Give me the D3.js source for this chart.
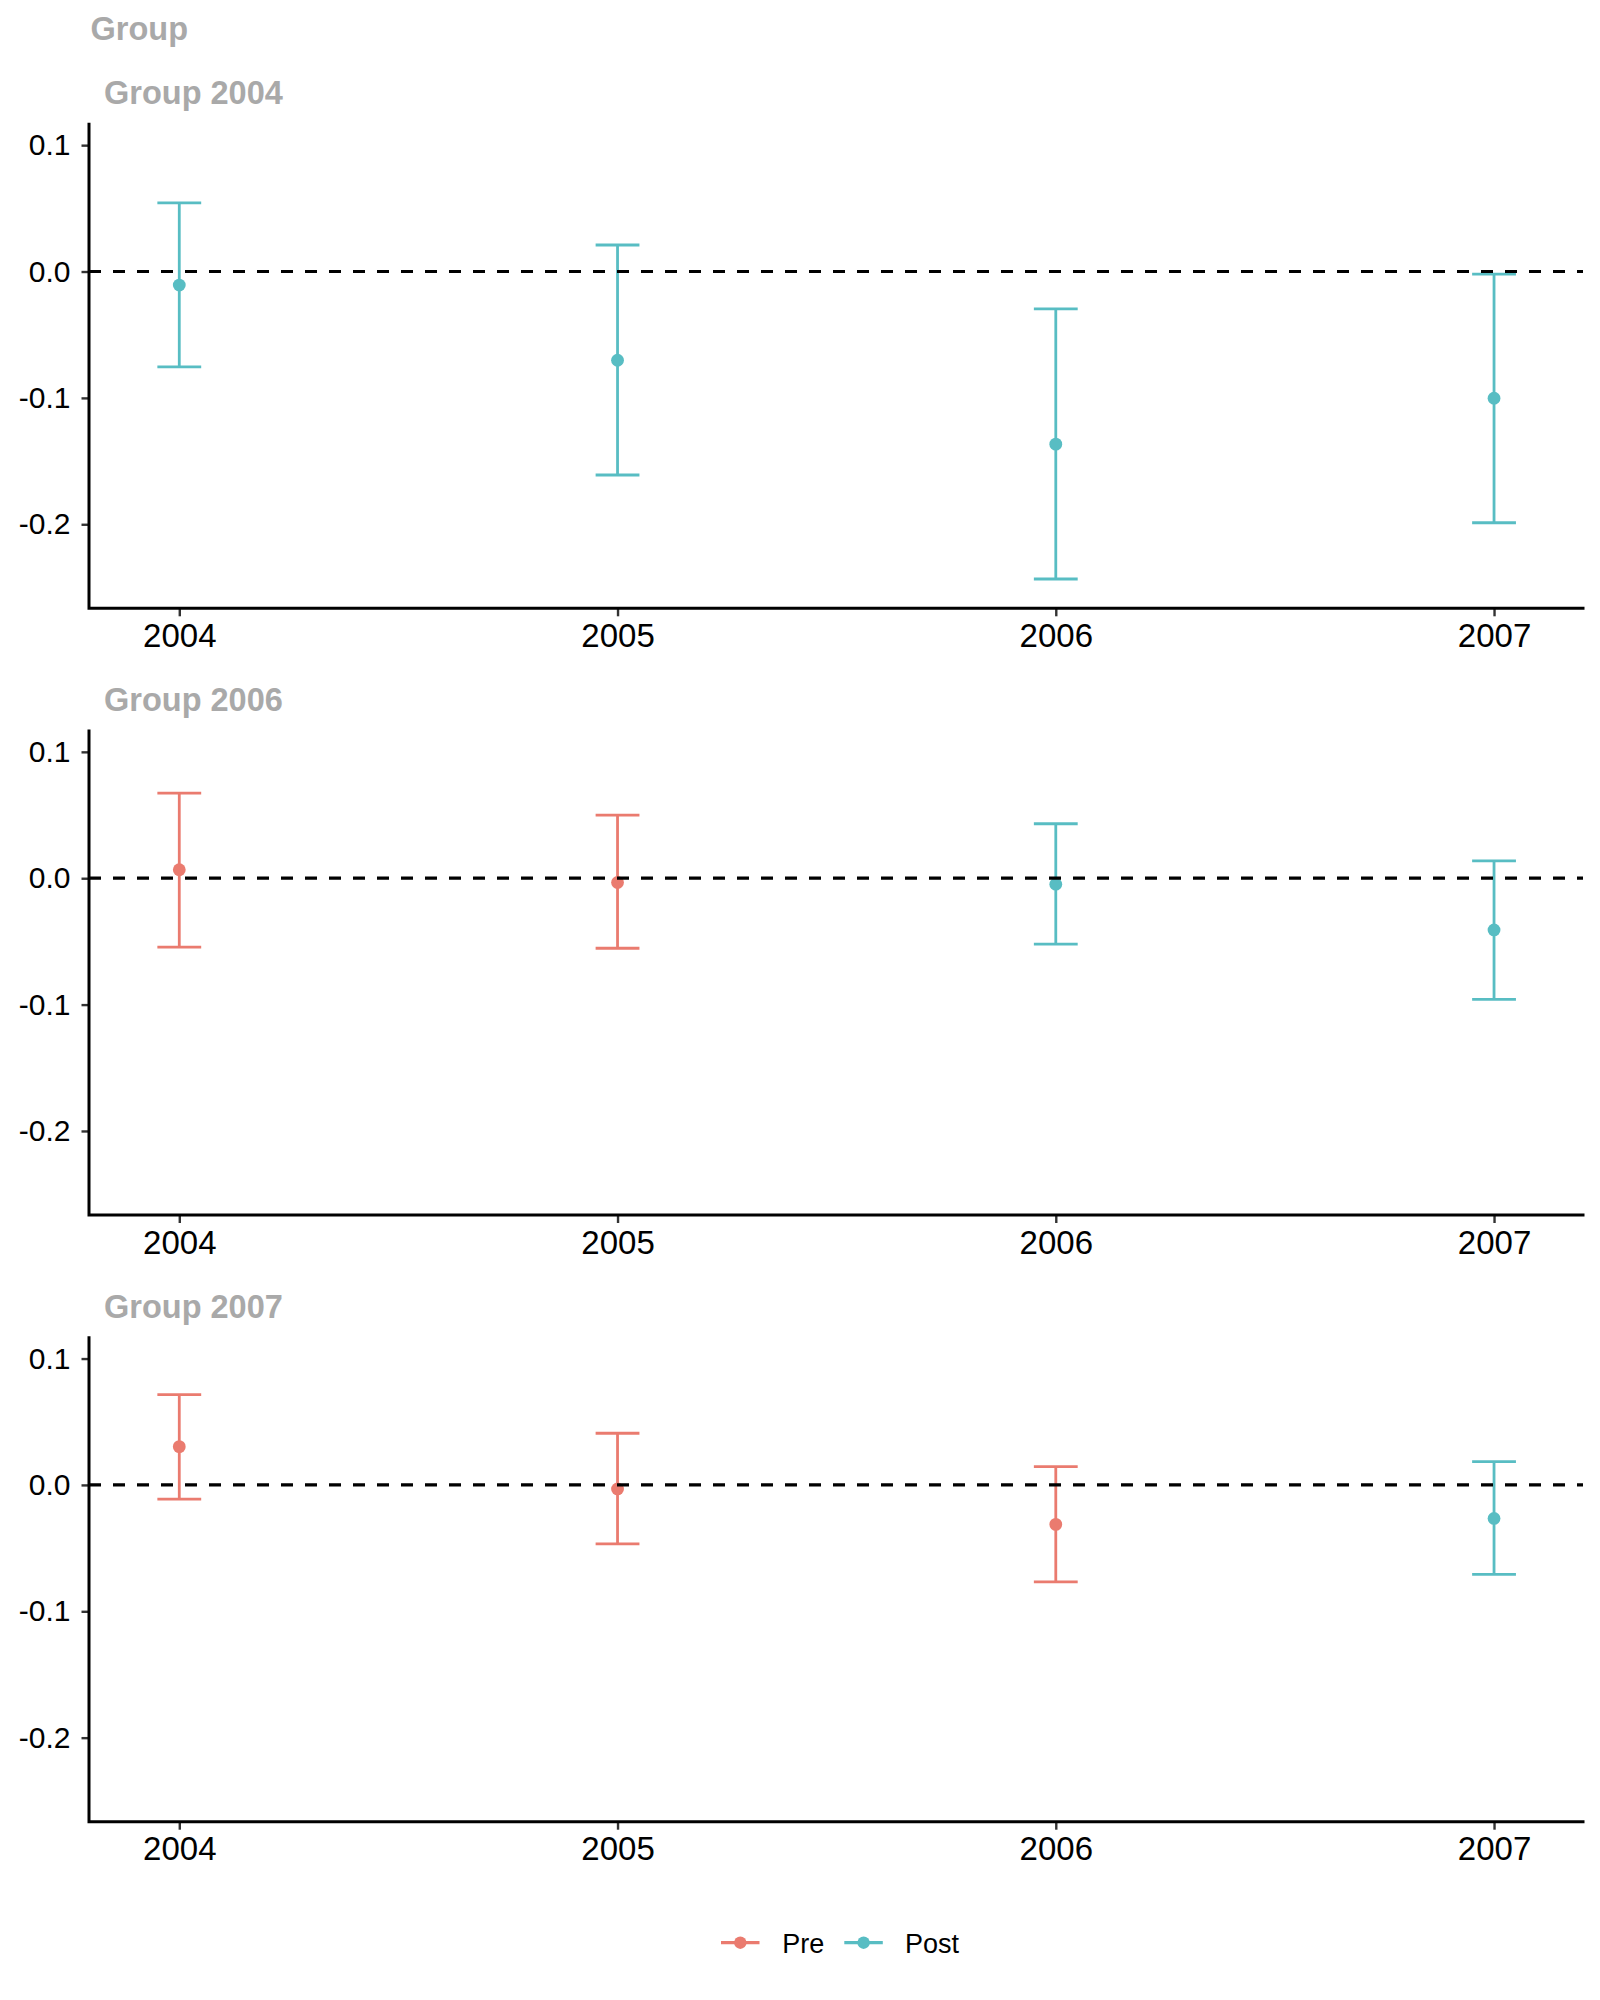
<!DOCTYPE html>
<html>
<head>
<meta charset="utf-8">
<script src="https://cdn.jsdelivr.net/npm/d3@7/dist/d3.min.js"></script>
<style>
  html, body { margin: 0; padding: 0; background: #fff; }
  svg { display: block; font-family: "Liberation Sans", Arial, Helvetica, sans-serif; }
</style>
</head>
<body>
<svg id="chart" width="1600" height="2000"></svg>
<script>
// ---- data ----
const years = [2004, 2005, 2006, 2007];
const groupNames = ["Group 2004", "Group 2006", "Group 2007"];
const periodLabels = ["Pre", "Post"];
const yTicks = [0.1, 0.0, -0.1, -0.2];

const periods2004 = ["Post", "Post", "Post", "Post"];
const est2004 = [-0.0107, -0.0702, -0.1366, -0.1003];
const lo2004  = [-0.0755, -0.1610, -0.2433, -0.1988];
const hi2004  = [ 0.0544,  0.0210, -0.0296, -0.0020];

const periods2006 = ["Pre", "Pre", "Post", "Post"];
const est2006 = [ 0.0067, -0.0034, -0.0047, -0.0409];
const lo2006  = [-0.0546, -0.0554, -0.0522, -0.0958];
const hi2006  = [ 0.0674,  0.0500,  0.0431,  0.0138];

const periods2007 = ["Pre", "Pre", "Pre", "Post"];
const est2007 = [ 0.0303, -0.0032, -0.0312, -0.0265];
const lo2007  = [-0.0112, -0.0466, -0.0767, -0.0708];
const hi2007  = [ 0.0715,  0.0409,  0.0144,  0.0184];

const panelData = [
  { name: groupNames[0], periods: periods2004, est: est2004, lo: lo2004, hi: hi2004 },
  { name: groupNames[1], periods: periods2006, est: est2006, lo: lo2006, hi: hi2006 },
  { name: groupNames[2], periods: periods2007, est: est2007, lo: lo2007, hi: hi2007 }
];

// ---- layout ----
const colors = { Pre: "#EA7B6F", Post: "#58BDC3" };
const left = 89, right = 1583;
const panelTops = [124.3, 731, 1337.7];
const panelH = 484;

const svg = d3.select("#chart");

const x = d3.scaleLinear().domain([2003.794, 2007.203]).range([left, right]);
const capW = 0.1; // in data units

// overall legend title
svg.append("text")
  .attr("x", 90.5).attr("y", 40)
  .attr("font-size", 32.5).attr("font-weight", "bold")
  .attr("fill", "#A9A9A9")
  .text("Group");

panelData.forEach((p, i) => {
  const top = panelTops[i];
  const bottom = top + panelH;
  const y = d3.scaleLinear().domain([-0.2665, 0.1165]).range([bottom, top]);
  const g = svg.append("g");

  // panel title
  g.append("text")
    .attr("x", 104).attr("y", top - 20)
    .attr("font-size", 32.5).attr("font-weight", "bold")
    .attr("fill", "#A9A9A9")
    .text(p.name);

  // y axis
  const yAxis = d3.axisLeft(y).tickValues(yTicks).tickSize(7.5).tickPadding(11)
    .tickFormat(d3.format(".1f"));
  const ya = g.append("g").attr("transform", `translate(${left},0)`).call(yAxis);
  ya.select(".domain").remove();
  ya.selectAll(".tick line").attr("stroke", "#333").attr("stroke-width", 2.4);
  ya.selectAll(".tick text").attr("font-size", 30).attr("fill", "#000")
    .attr("font-family", "'Liberation Sans', Arial, sans-serif")
    .text(d => d3.format(".1f")(d).replace("−", "-"));

  // x axis
  const xAxis = d3.axisBottom(x).tickValues(years).tickSize(8).tickPadding(8)
    .tickFormat(d3.format("d"));
  const xa = g.append("g").attr("transform", `translate(0,${bottom})`).call(xAxis);
  xa.select(".domain").remove();
  xa.selectAll(".tick line").attr("stroke", "#333").attr("stroke-width", 2.4);
  xa.selectAll(".tick text").attr("font-size", 33).attr("fill", "#000")
    .attr("font-family", "'Liberation Sans', Arial, sans-serif")
    .attr("dy", null).attr("y", 38.8);

  // axis lines
  g.append("path")
    .attr("d", `M${left},${top}V${bottom}H${right}`)
    .attr("fill", "none").attr("stroke", "#000").attr("stroke-width", 3)
    .attr("stroke-linecap", "square").attr("stroke-linejoin", "miter");

  const rows = years.map((yr, j) => ({ yr, period: p.periods[j], est: p.est[j], lo: p.lo[j], hi: p.hi[j] }));

  // error bars
  const eb = g.append("g").selectAll("g").data(rows).join("g")
    .attr("stroke", d => colors[d.period]).attr("stroke-width", 2.8).attr("fill", "none");
  eb.append("line")
    .attr("x1", d => x(d.yr)).attr("x2", d => x(d.yr))
    .attr("y1", d => y(d.hi)).attr("y2", d => y(d.lo));
  eb.append("line")
    .attr("x1", d => x(d.yr - capW / 2)).attr("x2", d => x(d.yr + capW / 2))
    .attr("y1", d => y(d.hi)).attr("y2", d => y(d.hi));
  eb.append("line")
    .attr("x1", d => x(d.yr - capW / 2)).attr("x2", d => x(d.yr + capW / 2))
    .attr("y1", d => y(d.lo)).attr("y2", d => y(d.lo));

  // points
  g.append("g").selectAll("circle").data(rows).join("circle")
    .attr("cx", d => x(d.yr)).attr("cy", d => y(d.est)).attr("r", 6.4)
    .attr("fill", d => colors[d.period]);

  // zero reference line (drawn on top)
  g.append("line")
    .attr("x1", left).attr("x2", right)
    .attr("y1", y(0)).attr("y2", y(0))
    .attr("stroke", "#000").attr("stroke-width", 3.2)
    .attr("stroke-dasharray", "12,12");
});

// ---- legend ----
const legY = 1942.7;
const legItems = [
  { label: periodLabels[0], x0: 721, textX: 782.3 },
  { label: periodLabels[1], x0: 844.3, textX: 905 }
];
const lg = svg.append("g");
legItems.forEach(it => {
  lg.append("line")
    .attr("x1", it.x0).attr("x2", it.x0 + 38.5)
    .attr("y1", legY).attr("y2", legY)
    .attr("stroke", colors[it.label]).attr("stroke-width", 3.2);
  lg.append("circle")
    .attr("cx", it.x0 + 19.3).attr("cy", legY).attr("r", 6.2)
    .attr("fill", colors[it.label]);
  lg.append("text")
    .attr("x", it.textX).attr("y", legY + 10)
    .attr("font-size", 27).attr("fill", "#000")
    .text(it.label);
});
</script>
</body>
</html>
